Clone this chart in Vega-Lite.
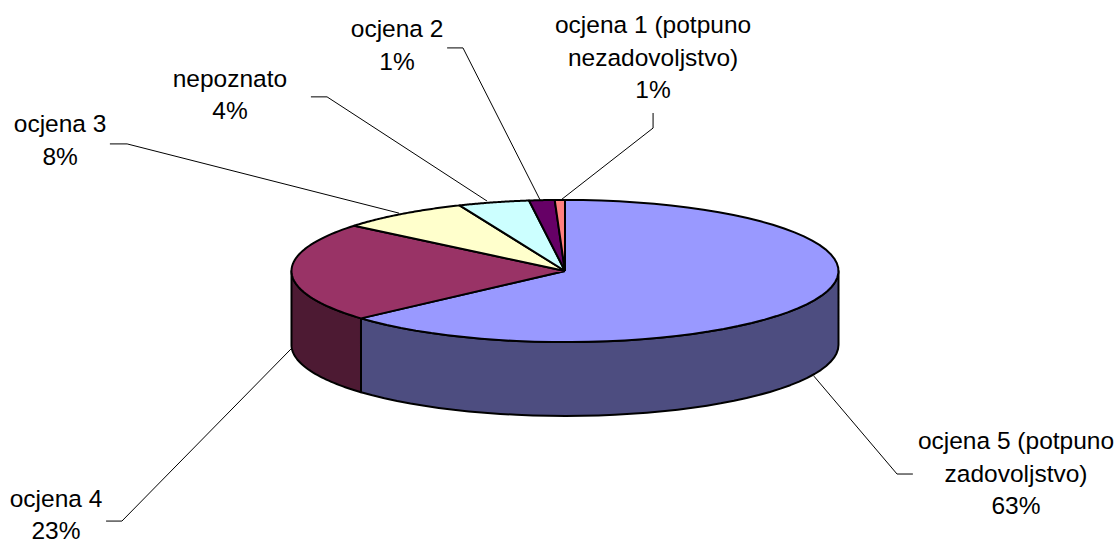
{
"$schema":"https://vega.github.io/schema/vega-lite/v6.json",
"width":1119,"height":545,"padding":0,
"autosize":{"type":"none"},
"background":"white",
"config":{"view":{"stroke":null}},
"datasets":{
"slices":[
{"ocjena":"ocjena 5 (potpuno zadovoljstvo)","rank":1,"share":63.4},
{"ocjena":"ocjena 4","rank":2,"share":22.6},
{"ocjena":"ocjena 3","rank":3,"share":7.7},
{"ocjena":"nepoznato","rank":4,"share":4.2},
{"ocjena":"ocjena 2","rank":5,"share":1.5},
{"ocjena":"ocjena 1 (potpuno nezadovoljstvo)","rank":6,"share":0.6}
],
"labels":[
{"text":"ocjena 5 (potpuno\nzadovoljstvo)\n63%","lx":1.649,"ly":-0.629},
{"text":"ocjena 4\n23%","lx":-1.861,"ly":-0.84},
{"text":"ocjena 3\n8%","lx":-1.846,"ly":0.530},
{"text":"nepoznato\n4%","lx":-1.225,"ly":0.695},
{"text":"ocjena 2\n1%","lx":-0.614,"ly":0.877},
{"text":"ocjena 1 (potpuno\nnezadovoljstvo)\n1%","lx":0.322,"ly":0.892}
],
"leaders":[
{"id":"1","n":1,"lx":0.322,"ly":0.574},{"id":"1","n":2,"lx":0.322,"ly":0.519},{"id":"1","n":3,"lx":-0.015,"ly":0.256},
{"id":"2","n":1,"lx":-0.431,"ly":0.812},{"id":"2","n":2,"lx":-0.373,"ly":0.812},{"id":"2","n":3,"lx":-0.091,"ly":0.256},
{"id":"n","n":1,"lx":-0.929,"ly":0.633},{"id":"n","n":2,"lx":-0.870,"ly":0.633},{"id":"n","n":3,"lx":-0.285,"ly":0.252},
{"id":"3","n":1,"lx":-1.664,"ly":0.461},{"id":"3","n":2,"lx":-1.601,"ly":0.461},{"id":"3","n":3,"lx":-0.607,"ly":0.208},
{"id":"4","n":1,"lx":-1.678,"ly":-0.918},{"id":"4","n":2,"lx":-1.620,"ly":-0.918},{"id":"4","n":3,"lx":-1.002,"ly":-0.289},
{"id":"5","n":1,"lx":1.272,"ly":-0.746},{"id":"5","n":2,"lx":1.214,"ly":-0.746},{"id":"5","n":3,"lx":0.910,"ly":-0.388}
]
},
"layer":[
{
"data":{"name":"slices"},
"transform":[
{"window":[{"op":"sum","field":"share","as":"end"}],"sort":[{"field":"rank"}]},
{"calculate":"max((datum.end-datum.share)/100,0.25)","as":"a0"},
{"calculate":"min(datum.end/100,0.75)","as":"a1"},
{"filter":"datum.a1>datum.a0"},
{"calculate":"sequence(0,41)","as":"korak"},
{"flatten":["korak"]},
{"calculate":"2*PI*(datum.a0+(datum.a1-datum.a0)*datum.korak/40)","as":"ang"},
{"calculate":"sin(datum.ang)","as":"px"},
{"calculate":"-0.0037+0.26*cos(datum.ang)","as":"py"},
{"calculate":"datum.py-0.27","as":"py2"}
],
"mark":{"type":"area","stroke":"black","strokeWidth":2,"strokeJoin":"round"},
"encoding":{
"x":{"field":"px","type":"quantitative","axis":null,"scale":{"domain":[-2.0658,2.0256]}},
"y":{"field":"py","type":"quantitative","axis":null,"scale":{"domain":[-1.0055,0.9872]}},
"y2":{"field":"py2"},
"fill":{"field":"ocjena","type":"nominal","legend":null,"scale":{"domain":["ocjena 5 (potpuno zadovoljstvo)","ocjena 4"],"range":["#4D4D80","#4D1A33"]}}
}
},
{
"data":{"name":"slices"},
"transform":[
{"window":[{"op":"sum","field":"share","as":"end"}],"sort":[{"field":"rank"}]},
{"calculate":"(datum.end-datum.share)/100","as":"a0"},
{"calculate":"datum.end/100","as":"a1"},
{"calculate":"sequence(0,63)","as":"korak"},
{"flatten":["korak"]},
{"calculate":"2*PI*(datum.a0+(datum.a1-datum.a0)*(datum.korak-1)/60)","as":"ang"},
{"calculate":"datum.korak==0||datum.korak>=62?0:sin(datum.ang)","as":"px"},
{"calculate":"-0.0037+(datum.korak==0||datum.korak>=62?0:0.26*cos(datum.ang))","as":"py"}
],
"mark":{"type":"line","filled":true,"stroke":"black","strokeWidth":2,"strokeJoin":"round"},
"encoding":{
"x":{"field":"px","type":"quantitative","axis":null,"scale":{"domain":[-2.0658,2.0256]}},
"y":{"field":"py","type":"quantitative","axis":null,"scale":{"domain":[-1.0055,0.9872]}},
"order":{"field":"korak","type":"quantitative"},
"detail":{"field":"ocjena"},
"fill":{"field":"ocjena","type":"nominal","legend":null,"scale":{"domain":["ocjena 5 (potpuno zadovoljstvo)","ocjena 4","ocjena 3","nepoznato","ocjena 2","ocjena 1 (potpuno nezadovoljstvo)"],"range":["#9999FF","#993366","#FFFFCC","#CCFFFF","#660066","#FF8080"]}}
}
},
{
"data":{"name":"leaders"},
"mark":{"type":"line","stroke":"black","strokeWidth":1},
"encoding":{
"x":{"field":"lx","type":"quantitative","axis":null,"scale":{"domain":[-2.0658,2.0256]}},
"y":{"field":"ly","type":"quantitative","axis":null,"scale":{"domain":[-1.0055,0.9872]}},
"order":{"field":"n","type":"quantitative"},
"detail":{"field":"id"}
}
},
{
"data":{"name":"labels"},
"mark":{"type":"text","font":"Liberation Sans","fontSize":24.5,"lineBreak":"\n","lineHeight":32.5,"align":"center","baseline":"middle","color":"black"},
"encoding":{
"x":{"field":"lx","type":"quantitative","axis":null,"scale":{"domain":[-2.0658,2.0256]}},
"y":{"field":"ly","type":"quantitative","axis":null,"scale":{"domain":[-1.0055,0.9872]}},
"text":{"field":"text"}
}
}
],
"resolve":{"scale":{"fill":"independent"}}
}
